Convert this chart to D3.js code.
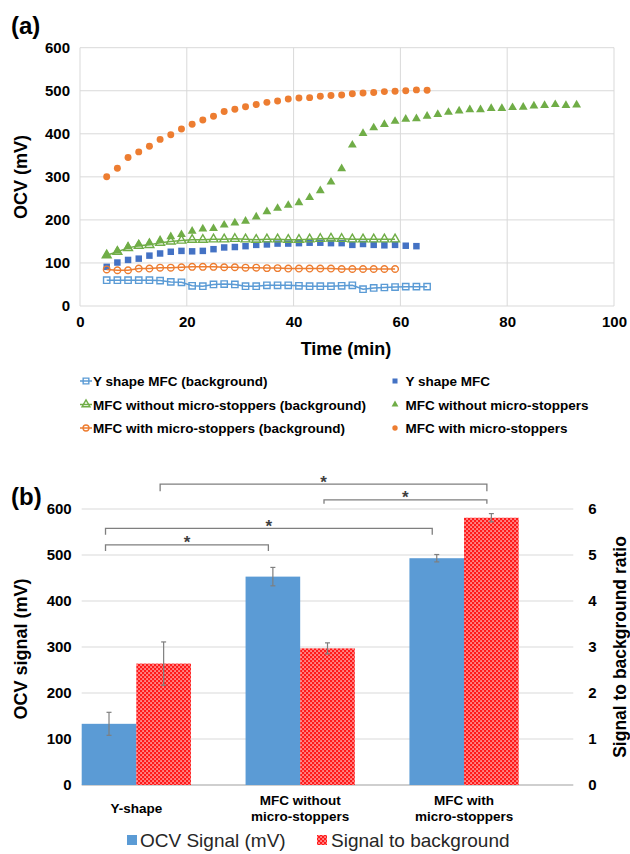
<!DOCTYPE html>
<html>
<head>
<meta charset="utf-8">
<style>
  body { margin: 0; background: #fff; }
  svg text { font-family: "Liberation Sans", Arial, sans-serif; }
</style>
</head>
<body>
<script src="https://d3js.org/d3.v7.min.js"></script>
<script>
// ---------- data, panel (a) ----------
var tBlueBg   = [5,7,9,11,13,15,17,19,21,23,25,27,29,31,33,35,37,39,41,43,45,47,49,51,53,55,57,59,61,63,65];
var vBlueBg   = [60,60,60,60,60,59,56,55,47,46,50,51,50,46,46,48,48,48,47,46,46,46,47,48,39,42,43,44,45,45,45];
var tBlue     = [5,7,9,11,13,15,17,19,21,23,25,27,29,31,33,35,37,39,41,43,45,47,49,51,53,55,57,59,61,63];
var vBlue     = [91,101,107,110,117,122,126,128,127,128,132,136,137,139,142,143,145,145,146,147,147,146,146,142,144,142,141,142,140,139];
var tGreenBg  = [5,7,9,11,13,15,17,19,21,23,25,27,29,31,33,35,37,39,41,43,45,47,49,51,53,55,57,59];
var vGreenBg  = [118,126,135,140,142,147,150,152,154,154,155,155,156,155,154,155,155,154,154,155,156,157,156,155,155,155,155,155];
var tGreen    = [5,7,9,11,13,15,17,19,21,23,25,27,29,31,33,35,37,39,41,43,45,47,49,51,53,55,57,59,61,63,65,67,69,71,73,75,77,79,81,83,85,87,89,91,93];
var vGreen    = [118,128,138,144,147,153,161,166,174,179,180,188,193,197,207,219,227,234,240,252,268,288,319,374,401,414,422,429,434,435,441,445,450,453,456,456,459,459,461,462,465,466,468,466,467];
var tOrangeBg = [5,7,9,11,13,15,17,19,21,23,25,27,29,31,33,35,37,39,41,43,45,47,49,51,53,55,57,59];
var vOrangeBg = [85,83,83,87,87,89,89,90,91,91,91,90,90,89,89,88,88,87,87,87,87,87,86,86,86,86,86,86];
var tOrange   = [5,7,9,11,13,15,17,19,21,23,25,27,29,31,33,35,37,39,41,43,45,47,49,51,53,55,57,59,61,63,65];
var vOrange   = [300,320,345,358,371,387,398,411,422,432,441,452,457,463,468,473,476,481,483,484,487,489,490,493,495,496,498,499,500,502,501];

var xTicksA = [0,20,40,60,80,100];
var yTicksA = [0,100,200,300,400,500,600];

// ---------- data, panel (b) ----------
var categories = ["Y-shape", "MFC without micro-stoppers", "MFC with micro-stoppers"];
var categoryLines = [["Y-shape"], ["MFC without", "micro-stoppers"], ["MFC with", "micro-stoppers"]];
var ocvSignal = [133, 453, 493];
var ocvErr    = [25, 20, 8];
var ratio     = [2.64, 2.97, 5.81];
var ratioErr  = [0.47, 0.12, 0.09];
var yTicksB   = [0,100,200,300,400,500,600];
var yTicksR   = [0,1,2,3,4,5,6];

var svg = d3.select("body").append("svg")
    .attr("width", 630).attr("height", 854);

var defs = svg.append("defs");
var pat = defs.append("pattern").attr("id", "checker")
    .attr("patternUnits", "userSpaceOnUse").attr("width", 4).attr("height", 4);
pat.append("rect").attr("width", 4).attr("height", 4).attr("fill", "#ff1a1a");
pat.append("rect").attr("x", 0.4).attr("y", 0.4).attr("width", 1.3).attr("height", 1.3).attr("fill", "#fff");
pat.append("rect").attr("x", 2.4).attr("y", 2.4).attr("width", 1.3).attr("height", 1.3).attr("fill", "#fff");

var gridColor = "#d9d9d9";

// =============== panel (a) ===============
var xA = d3.scaleLinear().domain([0, 100]).range([80, 614]);
var yA = d3.scaleLinear().domain([0, 600]).range([306, 47.7]);

svg.append("text").attr("x", 11).attr("y", 34)
    .attr("font-size", 24).attr("font-weight", "bold").text("(a)");

var gA = svg.append("g");
gA.selectAll(".hgrid").data(yTicksA).enter().append("line")
    .attr("x1", xA(0)).attr("x2", xA(100))
    .attr("y1", function(d) { return yA(d); }).attr("y2", function(d) { return yA(d); })
    .attr("stroke", gridColor).attr("stroke-width", 1);
gA.selectAll(".vgrid").data(xTicksA).enter().append("line")
    .attr("y1", yA(0)).attr("y2", yA(600))
    .attr("x1", function(d) { return xA(d); }).attr("x2", function(d) { return xA(d); })
    .attr("stroke", gridColor).attr("stroke-width", 1);

var axA_x = gA.append("g").attr("transform", "translate(0," + yA(0) + ")")
    .call(d3.axisBottom(xA).tickValues(xTicksA).tickSize(0).tickPadding(10));
var axA_y = gA.append("g").attr("transform", "translate(" + xA(0) + ",0)")
    .call(d3.axisLeft(yA).tickValues(yTicksA).tickSize(0).tickPadding(10));
[axA_x, axA_y].forEach(function(a) {
    a.select(".domain").remove();
    a.selectAll("text").attr("font-size", 15).attr("font-weight", "bold")
        .attr("fill", "#000").style("font-family", "'Liberation Sans', Arial, sans-serif");
});

svg.append("text").attr("x", 346).attr("y", 355).attr("text-anchor", "middle")
    .attr("font-size", 18).attr("font-weight", "bold").text("Time (min)");
svg.append("text").attr("transform", "translate(27,177) rotate(-90)")
    .attr("text-anchor", "middle").attr("font-size", 18).attr("font-weight", "bold")
    .text("OCV (mV)");

var seriesA = [
    { name: "Y shape MFC (background)", t: tBlueBg, v: vBlueBg, color: "#5b9bd5", shape: d3.symbolSquare, size: 40, bg: true },
    { name: "Y shape MFC", t: tBlue, v: vBlue, color: "#4472c4", shape: d3.symbolSquare, size: 42, bg: false },
    { name: "MFC without micro-stoppers (background)", t: tGreenBg, v: vGreenBg, color: "#70ad47", shape: d3.symbolTriangle, size: 34, bg: true },
    { name: "MFC without micro-stoppers", t: tGreen, v: vGreen, color: "#70ad47", shape: d3.symbolTriangle, size: 34, bg: false },
    { name: "MFC with micro-stoppers (background)", t: tOrangeBg, v: vOrangeBg, color: "#ed7d31", shape: d3.symbolCircle, size: 34, bg: true },
    { name: "MFC with micro-stoppers", t: tOrange, v: vOrange, color: "#ed7d31", shape: d3.symbolCircle, size: 38, bg: false }
];

var line = d3.line().x(function(d) { return xA(d[0]); }).y(function(d) { return yA(d[1]); });

seriesA.forEach(function(s) {
    var pts = s.t.map(function(t, i) { return [t, s.v[i]]; });
    var g = gA.append("g");
    if (s.bg) {
        g.append("path").attr("d", line(pts)).attr("fill", "none")
            .attr("stroke", s.color).attr("stroke-width", 1.5);
    }
    g.selectAll("path.m").data(pts).enter().append("path").attr("class", "m")
        .attr("transform", function(d) { return "translate(" + xA(d[0]) + "," + yA(d[1]) + ")"; })
        .attr("d", d3.symbol().type(s.shape).size(s.size))
        .attr("fill", s.bg ? "none" : s.color)
        .attr("stroke", s.bg ? s.color : "none")
        .attr("stroke-width", 1.4);
});

// legend (a)
var legColX = [86, 395], legRowY = [381, 404.5, 428];
seriesA.forEach(function(s, i) {
    var cx = legColX[i % 2], cy = legRowY[Math.floor(i / 2)];
    var g = svg.append("g");
    if (s.bg) {
        g.append("line").attr("x1", cx - 6).attr("x2", cx + 6).attr("y1", cy).attr("y2", cy)
            .attr("stroke", s.color).attr("stroke-width", 1.5);
    }
    g.append("path").attr("transform", "translate(" + cx + "," + cy + ")")
        .attr("d", d3.symbol().type(s.shape).size(s.bg ? s.size * 0.8 : s.size * 0.6))
        .attr("fill", s.bg ? "none" : s.color)
        .attr("stroke", s.bg ? s.color : "none").attr("stroke-width", 1.4);
    g.append("text").attr("x", s.bg ? cx + 7 : cx + 10.5).attr("y", cy + 5)
        .attr("font-size", 13.5).attr("font-weight", "bold").attr("fill", "#000")
        .text(s.name);
});

// =============== panel (b) ===============
svg.append("text").attr("x", 11).attr("y", 505)
    .attr("font-size", 24).attr("font-weight", "bold").text("(b)");

var yB = d3.scaleLinear().domain([0, 600]).range([785, 509]);
var yR = d3.scaleLinear().domain([0, 6]).range([785, 509]);
var x0 = d3.scaleBand().domain(categories).range([81.7, 573.3])
    .paddingInner(1 / 3).paddingOuter(1 / 6).align(0);
var x1 = d3.scaleBand().domain(["ocv", "ratio"]).range([0, x0.bandwidth()]);

var gB = svg.append("g");
gB.selectAll(".hgrid").data(yTicksB).enter().append("line")
    .attr("x1", 81.7).attr("x2", 573.3)
    .attr("y1", function(d) { return yB(d); }).attr("y2", function(d) { return yB(d); })
    .attr("stroke", function(d) { return d === 0 ? "#bfbfbf" : gridColor; })
    .attr("stroke-width", function(d) { return d === 0 ? 1.5 : 1; });

var axB_l = gB.append("g").attr("transform", "translate(81.7,0)")
    .call(d3.axisLeft(yB).tickValues(yTicksB).tickSize(0).tickPadding(10));
var axB_r = gB.append("g").attr("transform", "translate(573.3,0)")
    .call(d3.axisRight(yR).tickValues(yTicksR).tickFormat(d3.format("d")).tickSize(0).tickPadding(15));
[axB_l, axB_r].forEach(function(a) {
    a.select(".domain").remove();
    a.selectAll("text").attr("font-size", 15).attr("font-weight", "bold")
        .attr("fill", "#000").style("font-family", "'Liberation Sans', Arial, sans-serif");
});

var barsData = categories.map(function(c, i) {
    return [
        { cat: c, key: "ocv", top: yB(ocvSignal[i]), hi: yB(ocvSignal[i] + ocvErr[i]), lo: yB(ocvSignal[i] - ocvErr[i]) },
        { cat: c, key: "ratio", top: yR(ratio[i]), hi: yR(ratio[i] + ratioErr[i]), lo: yR(ratio[i] - ratioErr[i]) }
    ];
});
var flat = [].concat.apply([], barsData);

gB.selectAll("rect.bar").data(flat).enter().append("rect").attr("class", "bar")
    .attr("x", function(d) { return x0(d.cat) + x1(d.key); })
    .attr("width", x1.bandwidth())
    .attr("y", function(d) { return d.top; })
    .attr("height", function(d) { return yB(0) - d.top; })
    .attr("fill", function(d) { return d.key === "ocv" ? "#5b9bd5" : "url(#checker)"; });

var eb = gB.selectAll("g.err").data(flat).enter().append("g").attr("class", "err")
    .attr("stroke", "#7f7f7f").attr("stroke-width", 1.2);
eb.append("line")
    .attr("x1", function(d) { return x0(d.cat) + x1(d.key) + x1.bandwidth() / 2; })
    .attr("x2", function(d) { return x0(d.cat) + x1(d.key) + x1.bandwidth() / 2; })
    .attr("y1", function(d) { return d.hi; }).attr("y2", function(d) { return d.lo; });
["hi", "lo"].forEach(function(k) {
    eb.append("line")
        .attr("x1", function(d) { return x0(d.cat) + x1(d.key) + x1.bandwidth() / 2 - 2.5; })
        .attr("x2", function(d) { return x0(d.cat) + x1(d.key) + x1.bandwidth() / 2 + 2.5; })
        .attr("y1", function(d) { return d[k]; }).attr("y2", function(d) { return d[k]; });
});

// category labels
categories.forEach(function(c, i) {
    var cx = x0(c) + x0.bandwidth() / 2;
    var lines = categoryLines[i];
    var ys = lines.length === 1 ? [813] : [805, 820.5];
    lines.forEach(function(l, j) {
        svg.append("text").attr("x", cx).attr("y", ys[j]).attr("text-anchor", "middle")
            .attr("font-size", 13.5).attr("font-weight", "bold").attr("fill", "#000").text(l);
    });
});

// significance brackets
var brackets = [
    { a: [0, "ocv"], b: [1, "ocv"], level: 522, drop: 6 },
    { a: [0, "ocv"], b: [2, "ocv"], level: 558, drop: 6.5 },
    { a: [0, "ratio"], b: [2, "ratio"], level: 654, drop: 7 },
    { a: [1, "ratio"], b: [2, "ratio"], level: 620, drop: 4 }
];
brackets.forEach(function(br) {
    var xa = x0(categories[br.a[0]]) + x1(br.a[1]) + x1.bandwidth() / 2 - 3.5;
    var xb = x0(categories[br.b[0]]) + x1(br.b[1]) + x1.bandwidth() / 2 - 4.5;
    var yy = yB(br.level);
    svg.append("path")
        .attr("d", "M" + xa + "," + (yy + br.drop) + "V" + yy + "H" + xb + "V" + (yy + br.drop))
        .attr("fill", "none").attr("stroke", "#7f7f7f").attr("stroke-width", 1.3);
    svg.append("text").attr("x", (xa + xb) / 2).attr("y", yy + 3.5)
        .attr("text-anchor", "middle").attr("font-size", 17).attr("font-weight", "bold")
        .attr("fill", "#404040").text("*");
});

// axis titles (b)
svg.append("text").attr("transform", "translate(27,649) rotate(-90)")
    .attr("text-anchor", "middle").attr("font-size", 18).attr("font-weight", "bold")
    .text("OCV signal (mV)");
svg.append("text").attr("transform", "translate(626,647) rotate(-90)")
    .attr("text-anchor", "middle").attr("font-size", 17.5).attr("font-weight", "bold")
    .text("Signal to background ratio");

// legend (b)
svg.append("rect").attr("x", 127).attr("y", 835).attr("width", 10).attr("height", 10).attr("fill", "#5b9bd5");
svg.append("text").attr("x", 140).attr("y", 847).attr("font-size", 19).attr("fill", "#262626")
    .text("OCV Signal (mV)");
svg.append("rect").attr("x", 317).attr("y", 835).attr("width", 10).attr("height", 10).attr("fill", "url(#checker)");
svg.append("text").attr("x", 331).attr("y", 847).attr("font-size", 19).attr("fill", "#262626")
    .text("Signal to background");
</script>
</body>
</html>
